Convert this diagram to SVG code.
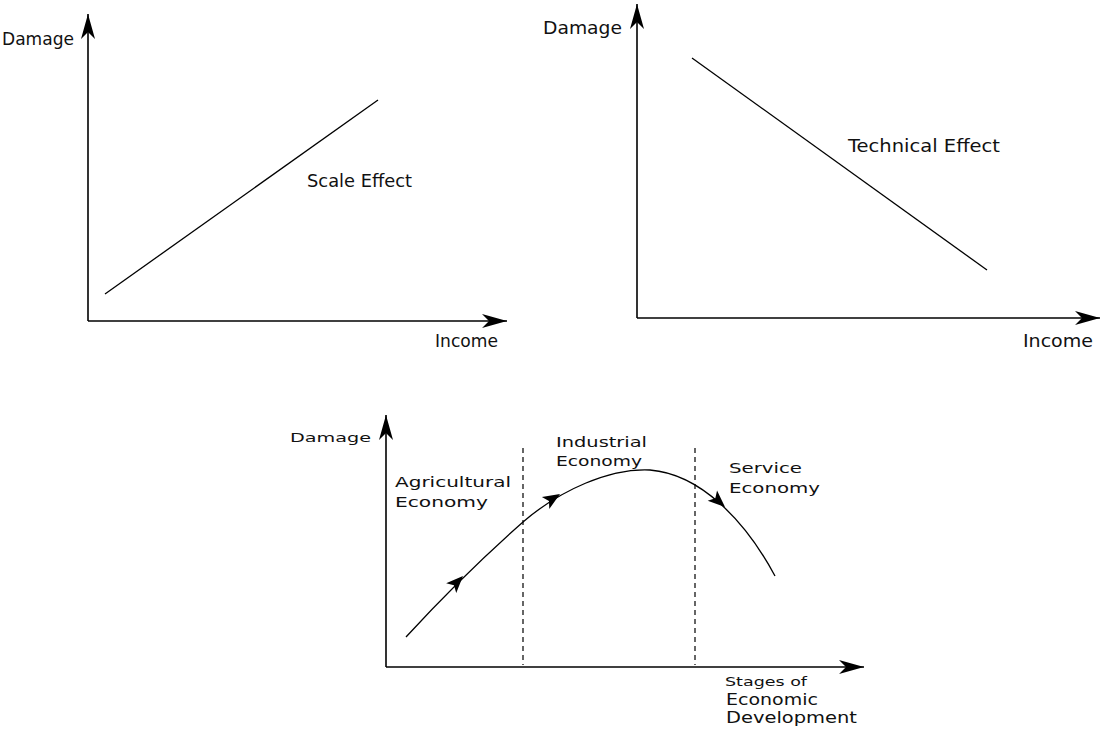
<svg xmlns="http://www.w3.org/2000/svg" xmlns:xlink="http://www.w3.org/1999/xlink" width="1102" height="731" viewBox="0 0 1102 731">
<style>
.ax{stroke:#000;stroke-width:1.6;fill:none}
.ln{stroke:#000;stroke-width:1.3;fill:none}
.dash{stroke:#000;stroke-width:1.2;stroke-dasharray:5,4;fill:none}
text{font-family:"DejaVu Sans","Liberation Sans",sans-serif;fill:#111}
.t17{font-size:17px}
.t18{font-size:18.5px}
.t14{font-size:14.5px}
.t12{font-size:12.5px}
.t15{font-size:15.5px}
</style>
<defs>
<marker id="arr" markerUnits="userSpaceOnUse" markerWidth="30" markerHeight="18" viewBox="-26 -9 30 18" refX="0" refY="0" orient="auto">
<path d="M0,0 L-25,-7 L-18,0 L-25,7 Z" fill="#000"/>
</marker>
<path id="ah" d="M0,0 L-17,-7 L-13,0 L-17,7 Z" fill="#000"/>
</defs>
<rect width="1102" height="731" fill="#fff"/>
<g id="graph-scale">
<line class="ax" x1="88" y1="321" x2="88" y2="14" marker-end="url(#arr)"/>
<line class="ax" x1="88" y1="321" x2="507" y2="321" marker-end="url(#arr)"/>
<line class="ln" x1="105" y1="294" x2="378" y2="100"/>
<text class="t17" x="2" y="45" textLength="72" lengthAdjust="spacingAndGlyphs">Damage</text>
<text class="t17" x="307" y="187" textLength="105" lengthAdjust="spacingAndGlyphs">Scale Effect</text>
<text class="t17" x="435" y="347" textLength="63" lengthAdjust="spacingAndGlyphs">Income</text>
</g>
<g id="graph-technical">
<line class="ax" x1="637" y1="318" x2="637" y2="4" marker-end="url(#arr)"/>
<line class="ax" x1="637" y1="318" x2="1100" y2="318" marker-end="url(#arr)"/>
<line class="ln" x1="692" y1="58" x2="987" y2="270"/>
<text class="t18" x="543" y="34" textLength="79" lengthAdjust="spacingAndGlyphs">Damage</text>
<text class="t18" x="848" y="152" textLength="152" lengthAdjust="spacingAndGlyphs">Technical Effect</text>
<text class="t18" x="1023" y="347" textLength="70" lengthAdjust="spacingAndGlyphs">Income</text>
</g>
<g id="graph-stages">
<line class="ax" x1="386" y1="667" x2="386" y2="415" marker-end="url(#arr)"/>
<line class="ax" x1="386" y1="667" x2="864" y2="667" marker-end="url(#arr)"/>
<line class="dash" x1="523" y1="448" x2="523" y2="665"/>
<line class="dash" x1="695" y1="448" x2="695" y2="665"/>
<path class="ln" d="M406,637 C440,600 480,560 523,522 C560,490 610,468 650,470 C700,474 745,520 775,576"/>
<use xlink:href="#ah" transform="translate(463,576) rotate(-46)"/>
<use xlink:href="#ah" transform="translate(560,494) rotate(-32)"/>
<use xlink:href="#ah" transform="translate(725,507) rotate(42)"/>
<text class="t12" x="290" y="442" textLength="81" lengthAdjust="spacingAndGlyphs">Damage</text>
<text class="t14" x="395" y="487" textLength="116" lengthAdjust="spacingAndGlyphs">Agricultural</text>
<text class="t14" x="395" y="507" textLength="93" lengthAdjust="spacingAndGlyphs">Economy</text>
<text class="t14" x="556" y="447" textLength="91" lengthAdjust="spacingAndGlyphs">Industrial</text>
<text class="t14" x="556" y="466" textLength="86" lengthAdjust="spacingAndGlyphs">Economy</text>
<text class="t14" x="729" y="473" textLength="73" lengthAdjust="spacingAndGlyphs">Service</text>
<text class="t14" x="729" y="493" textLength="91" lengthAdjust="spacingAndGlyphs">Economy</text>
<text class="t12" x="725" y="686" textLength="82" lengthAdjust="spacingAndGlyphs">Stages of</text>
<text class="t15" x="726" y="705" textLength="92" lengthAdjust="spacingAndGlyphs">Economic</text>
<text class="t15" x="726" y="723" textLength="131" lengthAdjust="spacingAndGlyphs">Development</text>
</g>
</svg>
